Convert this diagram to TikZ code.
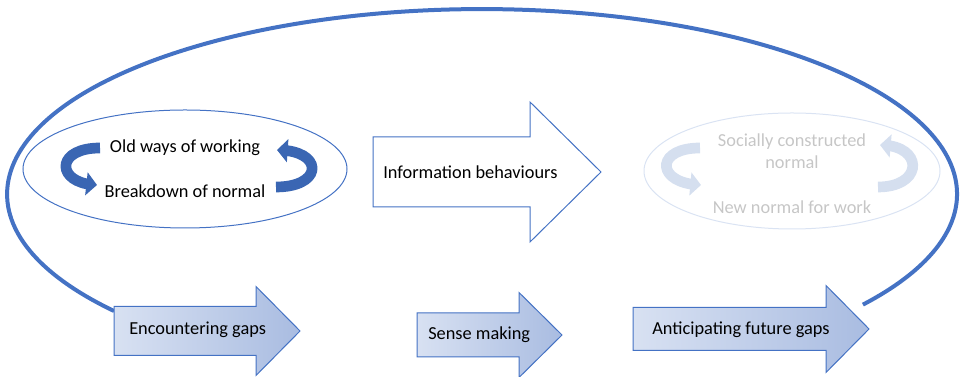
\documentclass[tikz,border=0pt]{standalone}
\usepackage{fontspec}
\setmainfont{Carlito}
\usepackage{tikz}
\usetikzlibrary{arrows.meta,bending,positioning}
\definecolor{loopblue}{HTML}{4472C4}
\definecolor{curlblue}{HTML}{3A66B3}
\definecolor{paleblue}{HTML}{D5DFEF}
\definecolor{paleline}{HTML}{DAE3F3}
\definecolor{palegray}{HTML}{C6C6C6}
\definecolor{stageleft}{HTML}{D8E1F2}
\definecolor{stageright}{HTML}{A9BCE1}
% block arrow: [style] x-left, x-neck, x-tip, y-centre, half body, half head
\newcommand{\blockarrow}[7][]{%
  \draw[#1] (#2,{#5-#6}) -- (#3,{#5-#6}) -- (#3,{#5-#7}) -- (#4,#5)
    -- (#3,{#5+#7}) -- (#3,{#5+#6}) -- (#2,{#5+#6}) -- cycle;}
\tikzset{
  label/.style={inner sep=0pt, font=\fontsize{13.75pt}{16.5pt}\selectfont},
  stage/.style={draw=loopblue, line width=0.75pt, left color=stageleft, right color=stageright},
  curl/.style={line width=8pt, -{Triangle[width=17pt,length=8pt]}}
}

\begin{document}
\begin{tikzpicture}[x=0.75pt, y=0.75pt]
      \useasboundingbox (0,0) rectangle (960,377);
      \coordinate (loopstart) at (114,66);
      \draw[loopblue, line width=3pt] (loopstart)
        arc[start angle=219.2, end angle=-36.7, x radius=356.25pt, y radius=138.75pt];

      \draw[loopblue, line width=0.75pt] (185,208) ellipse [x radius=121.5pt, y radius=44.25pt];
      \draw[paleline, line width=0.75pt] (792,206) ellipse [x radius=111pt, y radius=43.5pt];

      \begin{scope}[every path/.style={curl}]
          \draw[curlblue] (100,229) .. controls (54,229) and (56,193) .. (97,192);
          \draw[curlblue] (276,190) .. controls (324,190) and (324,227) .. (277,227);
          \draw[paleblue] (700,229) .. controls (654,229) and (656,193) .. (701,192);
          \draw[paleblue] (878,190) .. controls (924,190) and (924,232) .. (880,232);
      \end{scope}

      \blockarrow[draw=loopblue, line width=0.75pt, fill=white]{373}{530}{601}{205}{35}{70}
      \blockarrow[stage]{114}{256}{300}{46}{24.5}{44.5}
      \blockarrow[stage]{417}{519}{562}{42}{22}{42.5}
      \blockarrow[stage]{633}{826}{869}{48}{21.5}{43.5}

      \begin{scope}[every node/.style={label}]
          \node (old) at (185,229) {Old ways of working};
          \node (breakdown) at (185,186) {Breakdown of normal};
          \node[palegray, align=center] (social) at (792,226) {Socially constructed\\normal};
          \node[palegray] (newnormal) at (792,170) {New normal for work};
          \node[anchor=west] (info) at (383,205) {Information behaviours};
          \node[anchor=west] (gaps) at (129,47) {Encountering gaps};
          \node[anchor=west] (sense) at (428,42) {Sense making};
          \node[anchor=west] (future) at (652,47) {Anticipating future gaps};
      \end{scope}
\end{tikzpicture}
\end{document}
